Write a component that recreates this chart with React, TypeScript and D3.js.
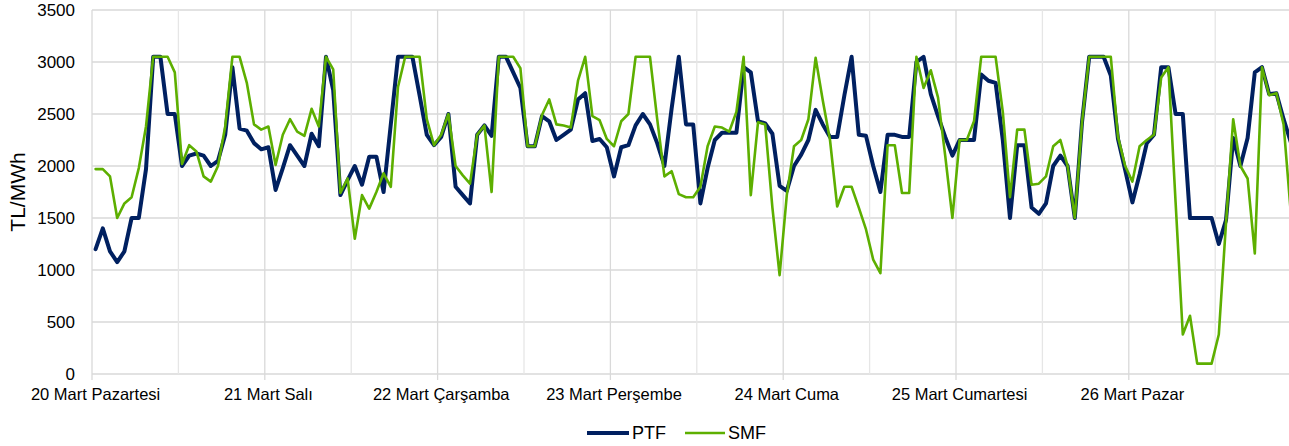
import * as d3 from "d3";

// hourly prices, 20-26 Mart (24 values per day)
const ptf: number[] = [
  // 20 Mart
  1200, 1400, 1180, 1075, 1180, 1500, 1500, 1970, 3050, 3050, 2500, 2500,
  2000, 2100, 2120, 2100, 2000, 2050, 2300, 2950, 2360, 2340, 2220, 2160,
  // 21 Mart
  2180, 1770, 1980, 2200, 2100, 2000, 2310, 2190, 3050, 2730, 1720, 1865,
  2000, 1820, 2090, 2090, 1750, 2400, 3050, 3050, 3050, 2680, 2300, 2200,
  // 22 Mart
  2280, 2500, 1800, 1720, 1640, 2300, 2390, 2290, 3050, 3050, 2900, 2750,
  2190, 2190, 2480, 2430, 2250, 2300, 2350, 2640, 2700, 2240, 2260, 2180,
  // 23 Mart
  1900, 2180, 2200, 2390, 2500, 2400, 2220, 2000, 2550, 3050, 2400, 2400,
  1640, 1980, 2250, 2320, 2320, 2320, 2950, 2900, 2430, 2410, 2310, 1810,
  // 24 Mart
  1760, 2000, 2110, 2250, 2540, 2400, 2280, 2280, 2680, 3050, 2300, 2290,
  2000, 1750, 2300, 2300, 2280, 2280, 3000, 3050, 2690, 2480, 2280, 2100,
  // 25 Mart
  2250, 2250, 2250, 2880, 2820, 2800, 2250, 1500, 2200, 2200, 1600, 1540,
  1640, 2000, 2100, 2000, 1500, 2420, 3050, 3050, 3050, 2870, 2260, 1960,
  // 26 Mart
  1650, 1920, 2220, 2300, 2950, 2950, 2500, 2500, 1500, 1500, 1500, 1500,
  1250, 1480, 2270, 2000, 2270, 2900, 2950, 2690, 2700, 2450, 2230, 2150,
];

const smf: number[] = [
  // 20 Mart
  1970, 1970, 1900, 1500, 1640, 1700, 1980, 2380, 3050, 3050, 3050, 2900,
  2020, 2200, 2140, 1900, 1850, 2000, 2380, 3050, 3050, 2800, 2400, 2350,
  // 21 Mart
  2380, 2010, 2300, 2450, 2330, 2290, 2550, 2380, 3050, 2930, 1740, 1880,
  1300, 1720, 1590, 1750, 1930, 1800, 2760, 3050, 3050, 3050, 2450, 2200,
  // 22 Mart
  2300, 2500, 2000, 1910, 1830, 2300, 2390, 1750, 3050, 3050, 3050, 2940,
  2190, 2190, 2490, 2640, 2400, 2390, 2370, 2820, 3050, 2480, 2440, 2260,
  // 23 Mart
  2190, 2430, 2500, 3050, 3050, 3050, 2450, 1900, 1950, 1730, 1700, 1700,
  1800, 2190, 2380, 2370, 2330, 2520, 3050, 1720, 2420, 2400, 1600, 950,
  // 24 Mart
  1720, 2190, 2250, 2450, 3040, 2630, 2250, 1610, 1800, 1800, 1600, 1390,
  1100, 970, 2200, 2200, 1740, 1740, 3050, 2750, 2920, 2660, 2100, 1500,
  // 25 Mart
  2250, 2250, 2430, 3050, 3050, 3050, 2520, 1700, 2350, 2350, 1820, 1830,
  1900, 2190, 2250, 2000, 1500, 2420, 3050, 3050, 3050, 3050, 2280, 2000,
  // 26 Mart
  1850, 2190, 2250, 2300, 2850, 2950, 1650, 380, 560, 100, 100, 100,
  380, 1450, 2450, 2000, 1880, 1160, 2950, 2680, 2700, 2400, 1550, 1400,
];

const days = [
  "20 Mart Pazartesi",
  "21 Mart Salı",
  "22 Mart Çarşamba",
  "23 Mart Perşembe",
  "24 Mart Cuma",
  "25 Mart Cumartesi",
  "26 Mart Pazar",
];

const yTicks = [0, 500, 1000, 1500, 2000, 2500, 3000, 3500];

const W = 1289;
const H = 446;
const FONT = "'Liberation Sans', Arial, sans-serif";
const PTF_COLOR = "#002060";
const SMF_COLOR = "#5DAF00";

export default function App() {
  const hours = ptf.length;
  // plot area runs a little past the right edge of the picture
  const x = d3.scaleLinear().domain([0, hours]).range([92, 1301.6]);
  const y = d3.scaleLinear().domain([0, 3500]).range([374, 10]);

  const line = d3
    .line<number>()
    .x((_, i) => x(i + 0.5))
    .y((d) => y(d));

  const gridHours = d3.range(0, hours + 1, 12);

  return (
    <svg
      width={W}
      height={H}
      style={{ position: "absolute", left: 0, top: 0, background: "#fff" }}
      fontFamily={FONT}
    >
      {/* horizontal grid */}
      {yTicks.map((t) => (
        <line
          key={"h" + t}
          x1={x(0)}
          x2={x(hours)}
          y1={y(t)}
          y2={y(t)}
          stroke="#d9d9d9"
          strokeWidth={1.3}
        />
      ))}
      {/* vertical grid every 12 hours */}
      {gridHours.map((h) => (
        <line
          key={"v" + h}
          x1={x(h)}
          x2={x(h)}
          y1={y(3500)}
          y2={y(0)}
          stroke={h % 24 === 0 ? "#d9d9d9" : "#e6e6e6"}
          strokeWidth={1.3}
        />
      ))}
      {/* day tick marks */}
      {d3.range(0, hours + 1, 24).map((h) => (
        <line
          key={"t" + h}
          x1={x(h)}
          x2={x(h)}
          y1={y(0)}
          y2={y(0) + 6}
          stroke="#d9d9d9"
          strokeWidth={1.3}
        />
      ))}

      {/* y axis labels */}
      {yTicks.map((t) => (
        <text
          key={"yl" + t}
          x={75}
          y={y(t)}
          dy="0.35em"
          textAnchor="end"
          fontSize={17}
          fill="#000"
        >
          {t}
        </text>
      ))}
      <text
        transform={`translate(25, ${y(1750)}) rotate(-90)`}
        textAnchor="middle"
        fontSize={21}
        fill="#000"
      >
        TL/MWh
      </text>

      {/* x axis labels, centred on first hour of each day */}
      {days.map((d, i) => (
        <text
          key={d}
          x={x(i * 24 + 0.5)}
          y={400}
          textAnchor="middle"
          fontSize={16.5}
          fill="#000"
        >
          {d}
        </text>
      ))}

      {/* series */}
      <path
        d={line(ptf) ?? ""}
        fill="none"
        stroke={PTF_COLOR}
        strokeWidth={4}
        strokeLinejoin="round"
        strokeLinecap="round"
      />
      <path
        d={line(smf) ?? ""}
        fill="none"
        stroke={SMF_COLOR}
        strokeWidth={2.6}
        strokeLinejoin="round"
        strokeLinecap="round"
      />

      {/* legend */}
      <g fontSize={18} fill="#000">
        <line x1={587} x2={629} y1={433} y2={433} stroke={PTF_COLOR} strokeWidth={4} />
        <text x={632} y={433} dy="0.35em">PTF</text>
        <line x1={685} x2={725} y1={433} y2={433} stroke={SMF_COLOR} strokeWidth={2.6} />
        <text x={728} y={433} dy="0.35em">SMF</text>
      </g>
    </svg>
  );
}
